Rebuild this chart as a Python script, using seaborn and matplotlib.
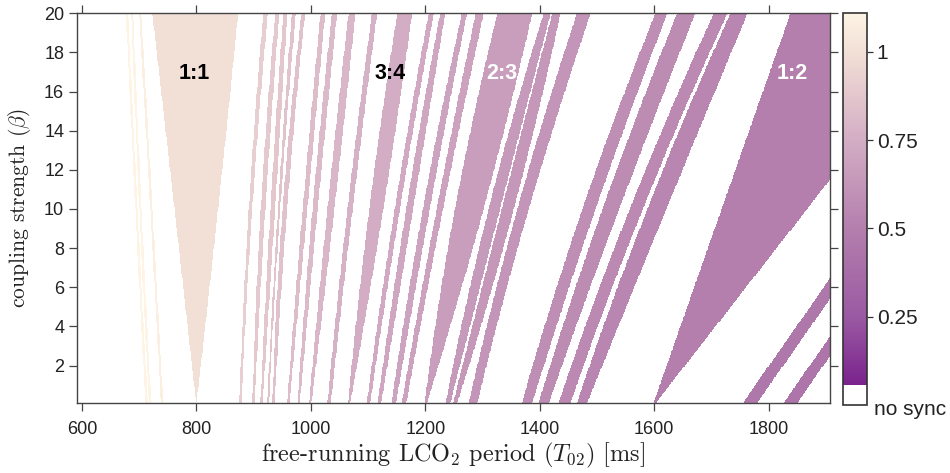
import numpy as np
import pandas as pd
import matplotlib
matplotlib.use("Agg")
import matplotlib.pyplot as plt
import seaborn as sns
from matplotlib.colors import ListedColormap, to_rgb

# ---------------- data ----------------
# locking tongues: colour value (ratio) and left/right edges [ms] at beta = 0.1, 9.7, 20
beta_levels = [0.1, 9.7, 20.0]
tongue_value = [1.12, 1.11, 1.08, 1.00,
                0.91, 0.89, 0.875, 0.86, 0.855, 0.83, 0.815, 0.80, 0.775,
                0.75, 0.73, 0.715, 0.70, 0.69, 0.667,
                0.645, 0.635, 0.625, 0.58, 0.57, 0.555, 0.54,
                0.50, 0.45, 0.43]
left_bottom = [711, 717, 738, 799.6,
               875, 898, 912, 924, 933, 959, 977, 997, 1029,
               1065, 1098, 1117, 1141, 1159, 1199,
               1236, 1249, 1276, 1369, 1398, 1433, 1465,
               1599, 1755, 1826]
right_bottom = [715, 721, 742, 800.4,
                879, 902, 916, 927, 937, 963, 981, 1001, 1035,
                1069, 1104, 1123, 1149, 1167, 1203,
                1244, 1256, 1291, 1387, 1416, 1454, 1483,
                1603, 1780, 1850]
left_mid = [694, 701, 720, 763,
            891, 912, 929, 942, 950, 985, 1002, 1028, 1063,
            1101, 1145, 1165, 1194, 1218, 1250,
            1308, 1331, 1358, 1471, 1506, 1553, 1584,
            1714, 1985, 2056]
right_mid = [698, 705, 724, 837,
             897, 920, 937, 946, 958, 993, 1011, 1040, 1072,
             1125, 1154, 1177, 1206, 1229, 1299,
             1328, 1352, 1378, 1494, 1535, 1576, 1617,
             1859, 2010, 2080]
left_top = [677, 686, 700, 723,
            917, 938, 952, 967, 984, 1017, 1037, 1066, 1107,
            1151, 1206, 1226, 1264, 1288, 1326,
            1407, 1422, 1465, 1602, 1640, 1704, 1733,
            1838, 2233, 2304]
right_top = [681, 690, 704, 873,
             925, 945, 959, 974, 990, 1025, 1046, 1078, 1116,
             1177, 1215, 1235, 1273, 1302, 1387,
             1419, 1436, 1489, 1623, 1672, 1728, 1763,
             2135, 2258, 2328]

label_text = ["1:1", "3:4", "2:3", "1:2"]
label_T = [796, 1139, 1333, 1841]
label_beta = [16.9, 16.9, 16.9, 16.9]
label_color = ["black", "black", "white", "white"]

x_ticks = [600, 800, 1000, 1200, 1400, 1600, 1800]
y_ticks = [2, 4, 6, 8, 10, 12, 14, 16, 18, 20]
cbar_ticks = [0.25, 0.5, 0.75, 1.0]
cbar_labels = ["0.25", "0.5", "0.75", "1"]

# colour scale anchors (value, colour)
cmap_vals = [0.057, 0.25, 0.5, 0.75, 1.0, 1.11]
cmap_cols = ["#7a238d", "#9a5aa2", "#b47fad", "#d3adc4", "#f2e0d6", "#fdf4e5"]
VMIN, VMAX, NOSYNC = 0.0, 1.11, 0.057

# ---------------- grid ----------------
XMIN, XMAX = 591.0, 1907.0
YMIN, YMAX = 0.1, 20.0
nx, ny = 1316, 398
DX = (XMAX - XMIN) / nx
DY = (YMAX - YMIN) / ny
xc = XMIN + (np.arange(nx) + 0.5) * DX
yc = YMAX - (np.arange(ny) + 0.5) * DY  # top row first

grid = np.zeros((ny, nx))
for v, lb, rb, lm, rm, lt, rt in zip(tongue_value, left_bottom, right_bottom,
                                     left_mid, right_mid, left_top, right_top):
    pl = np.polyfit(beta_levels, [lb, lm, lt], 2)
    pr = np.polyfit(beta_levels, [rb, rm, rt], 2)
    L = np.polyval(pl, yc)[:, None]
    R = np.polyval(pr, yc)[:, None]
    mask = (xc[None, :] >= L) & (xc[None, :] <= R)
    grid[mask] = v

df = pd.DataFrame(grid, index=np.round(yc, 3), columns=np.round(xc, 1))

# colormap with white "no sync" bin
vals = np.linspace(VMIN, VMAX, 1111)
rgb = np.array([to_rgb(c) for c in cmap_cols])
cols = np.stack([np.interp(vals, cmap_vals, rgb[:, k]) for k in range(3)], axis=1)
cols[vals < NOSYNC] = 1.0
cmap = ListedColormap(cols)

# ---------------- plot ----------------
sns.set_theme(style="ticks")
plt.rcParams["font.family"] = ["Liberation Sans", "DejaVu Sans"]
plt.rcParams["mathtext.fontset"] = "cm"

fig = plt.figure(figsize=(9.5, 4.73), dpi=100)
ax = fig.add_axes([0.0807, 0.1486, 0.793, 0.8233])
cax = fig.add_axes([0.8874, 0.1438, 0.0253, 0.8288])

sns.heatmap(df, ax=ax, cmap=cmap, vmin=VMIN, vmax=VMAX, cbar=True, cbar_ax=cax,
            xticklabels=False, yticklabels=False, rasterized=True)

def xpos(t):
    return (t - XMIN) / DX

def ypos(b):
    return (YMAX - b) / DY

ax.set_xticks([xpos(t) for t in x_ticks])
ax.set_xticklabels([str(t) for t in x_ticks], rotation=0)
ax.set_yticks([ypos(b) for b in y_ticks])
ax.set_yticklabels([str(b) for b in y_ticks], rotation=0)
ax.tick_params(axis="both", direction="out", length=5.5, width=0.9, color="#444444",
               top=True, right=True, labeltop=False, labelright=False,
               labelsize=13, labelcolor="#222222")
ax.tick_params(axis="x", pad=7.5)
ax.tick_params(axis="y", pad=3.5)
for sp in ax.spines.values():
    sp.set_visible(True)
    sp.set_color("#444444")
    sp.set_linewidth(1.0)

ax.set_xlabel("free-running LCO$_2$ period ($T_{02}$) [ms]", fontfamily="cmr10",
              fontsize=17.5, labelpad=2, color="#222222")
ax.set_ylabel(r"coupling strength ($\beta$)", fontfamily="cmr10",
              fontsize=15.5, labelpad=8, color="#222222")

for txt, t, b, c in zip(label_text, label_T, label_beta, label_color):
    ax.text(xpos(t), ypos(b), txt, color=c, fontsize=15.5, fontweight="bold",
            ha="center", va="center")

cbar = ax.collections[0].colorbar
cbar.set_ticks(cbar_ticks)
cbar.set_ticklabels(cbar_labels)
cbar.outline.set_visible(True)
cbar.outline.set_linewidth(1.2)
cbar.outline.set_edgecolor("#333333")
cax.tick_params(length=4, width=0.9, direction="out", labelsize=15, pad=3,
                color="#333333", labelcolor="#222222")
cax.text(1.3, -0.012, "no sync", transform=cax.transAxes, fontsize=15,
         ha="left", va="center", color="#222222")

fig.savefig("out.png", dpi=100)
